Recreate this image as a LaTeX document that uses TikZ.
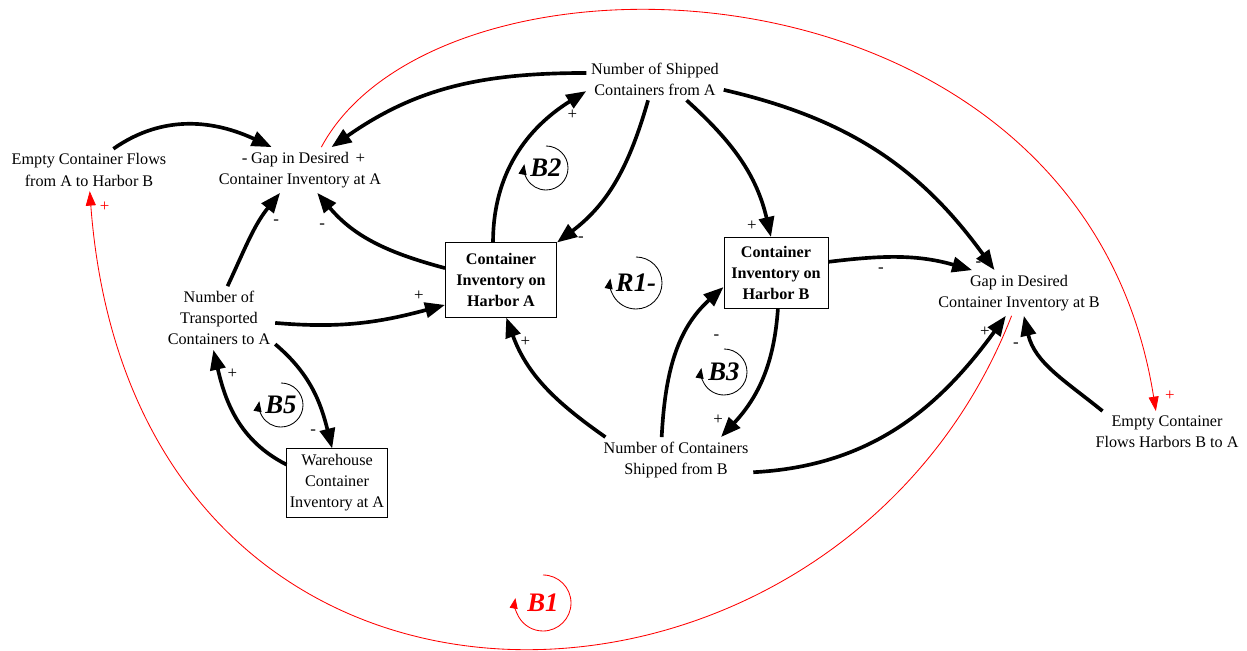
\documentclass[tikz,border=0pt]{standalone}
\usepackage{fontspec}
\setmainfont{Liberation Serif}
\usepackage{tikz}
\usetikzlibrary{arrows.meta,positioning}

\begin{document}
\begin{tikzpicture}[
    x=0.025cm, y=0.025cm,
    every node/.style={font=\fontsize{11.5}{15}\selectfont, align=center},
    stock/.style={draw, line width=0.7pt, font=\fontsize{11.5}{15}\selectfont\bfseries, inner sep=0pt},
    whbox/.style={draw, line width=0.7pt, inner sep=0pt},
    link/.style={line width=2.6pt, -{Triangle[length=5mm,width=3.8mm]}},
    redlink/.style={red, line width=0.6pt, -{Triangle[length=3.6mm,width=2.5mm]}},
    pol/.style={font=\fontsize{12}{14}\selectfont, inner sep=0pt},
    looplbl/.style={font=\fontsize{19}{21}\selectfont\bfseries\itshape, inner sep=0pt},
    looparc/.style={line width=0.6pt, -{Triangle[length=2.6mm,width=2mm]}}
]
\useasboundingbox (0,0) rectangle (1247,650);

% Variables
\node (emptyA) at (89,480)   {Empty Container Flows\\from A to Harbor B};
\node (gapA)   at (300,480)  {Gap in Desired\\Container Inventory at A};
\node (shipA)  at (655,571)  {Number of Shipped\\Containers from A};
\node (transA) at (219,332)  {Number of\\Transported\\Containers to A};
\node (shipB)  at (676,190)  {Number of Containers\\Shipped from B};
\node (gapB)   at (1019,357) {Gap in Desired\\Container Inventory at B};
\node (emptyB) at (1167,218) {Empty Container\\Flows Harbors B to A};

% Stocks
\node (harbA) [stock, minimum width=2.775cm, minimum height=1.85cm]  at (501,370) {Container\\Inventory on\\Harbor A};
\node (harbB) [stock, minimum width=2.6cm, minimum height=1.775cm]   at (776,377) {Container\\Inventory on\\Harbor B};
\node (wareA) [whbox, minimum width=2.5cm, minimum height=1.7cm]     at (337,167) {Warehouse\\Container\\Inventory at A};

% Links
\draw[link] (emptyA.41) to[out=35,in=155] node[pol,pos=1,shift={(-27,-14)}]{-} (gapA.141);
\draw[link] (shipA.175) to[out=180,in=35] node[pol,pos=1,shift={(29,-12)}]{+} (gapA.36);
\draw[link] (harbA.168) to[out=165,in=-50] node[pol,pos=1,shift={(5,-33)}]{-} (gapA.-53);
\draw[link] (transA.75) to[out=65,in=231] node[pol,pos=1,shift={(-4,-29)}]{-} (gapA.229);
\draw[link] (transA.-5) to[out=-5,in=195] node[pol,pos=1,shift={(-26,9)}]{+} (harbA.204);
\draw[link] (transA.-25) to[out=-40,in=104] node[pol,pos=1,shift={(-19,16)}]{-} (wareA.98);
\draw[link] (wareA.160) to[out=153,in=-77] node[pol,pos=1,shift={(19,-24)}]{+} (transA.260);
\draw[link] (harbA.102) to[out=90,in=212] node[pol,pos=1,shift={(-14,-24)}]{+} (shipA.190);
\draw[link] (shipA.-108) to[out=-106,in=37] node[pol,pos=1,shift={(24,3)}]{-} (harbA.north east);
\draw[link] (shipA.-34) to[out=-42,in=103] node[pol,pos=1,shift={(-19,11)}]{+} (harbB.98);
\draw[link] (shipA.-9) to[out=-13,in=126] node[pol,pos=1,shift={(-16,6)}]{-} (gapB.137);
\draw[link] (harbB.12) to[out=7,in=164] node[pol,pos=.35,below=6pt]{-} (gapB.154);
\draw[link] (harbB.-87) to[out=-94,in=47] node[pol,pos=1,shift={(-3,17)}]{+} (shipB.27);
\draw[link] (shipB.122) to[out=87,in=222] node[pol,pos=1,shift={(-7,-50)}]{-} (harbB.195);
\draw[link] (shipB.162) to[out=145,in=290] node[pol,pos=1,shift={(19,-24)}]{+} (harbA.-82);
\draw[link] (shipB.-9) to[out=3,in=234] node[pol,pos=1,shift={(-21,-16)}]{+} (gapB.-120);
\draw[link] (emptyB.162) to[out=141,in=283] node[pol,pos=1,shift={(-8,-29)}]{-} (gapB.-78);

% Red links
\draw[redlink] (gapA.47) .. controls +(118,220) and +(-74,468) .. node[pol,pos=1,shift={(14,15)}]{+} (emptyB.118);
\draw[redlink] (gapB.-108) .. controls +(-176,-450) and +(45,-600) .. node[pol,pos=1,shift={(15,-16)}]{+} (emptyA.-88);

% Loop markers
\node (b2) [looplbl] at (546,482) {B2};
\draw[looparc] (b2) ++(90:22) arc[start angle=90, end angle=-190, radius=22];
\node (r1) [looplbl] at (636,367) {R1-};
\draw[looparc] (r1) ++(90:26) arc[start angle=90, end angle=-190, radius=26];
\node (b3) [looplbl] at (724,278) {B3};
\draw[looparc] (b3) ++(90:23) arc[start angle=90, end angle=-190, radius=23];
\node (b5) [looplbl] at (281,245) {B5};
\draw[looparc] (b5) ++(90:22) arc[start angle=90, end angle=-190, radius=22];
\node (b1) [looplbl, red] at (543,47) {B1};
\draw[looparc, red] (b1) ++(90:28) arc[start angle=90, end angle=-190, radius=28];

\end{tikzpicture}
\end{document}
